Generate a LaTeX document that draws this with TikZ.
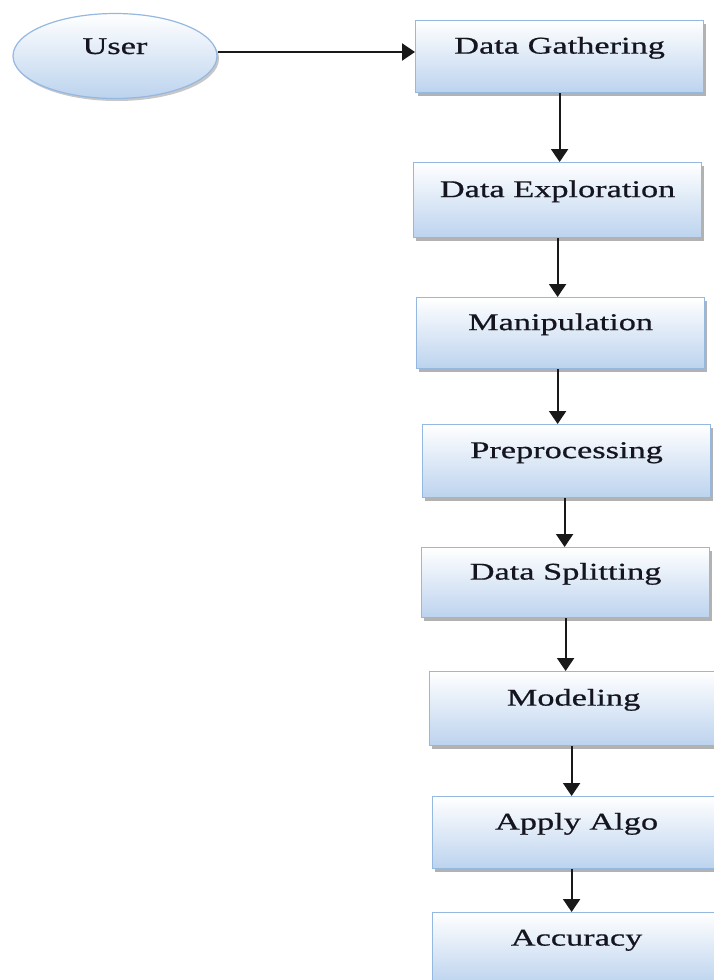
\documentclass[tikz,border=0pt]{standalone}
\usepackage{fontspec}
\setmainfont[FakeStretch=1.43,FakeBold=0.7]{Liberation Serif}
\usetikzlibrary{arrows.meta,shadows,shapes.geometric,calc}
\definecolor{boxbot}{HTML}{BCD3EE}
\definecolor{boxline}{HTML}{95B8E0}
\definecolor{txt}{HTML}{151520}
\begin{document}
\begin{tikzpicture}[x=1pt,y=1pt,
  font=\fontsize{24}{28}\selectfont,
  stepbox/.style={rectangle, draw=boxline, line width=1.2pt,
    top color=white, bottom color=boxbot, text=txt,
    minimum width=288pt, inner sep=0pt, anchor=north west,
    text height=16pt, text depth=22pt,
    drop shadow={shadow xshift=2.5pt, shadow yshift=-3pt, opacity=0.5, fill=black!60}},
  userell/.style={ellipse, draw=boxline, line width=1.2pt,
    top color=white, bottom color=boxbot, text=txt,
    minimum width=204pt, minimum height=85pt, inner sep=0pt,
    text height=16pt, text depth=20pt,
    drop shadow={shadow xshift=2pt, shadow yshift=-2.5pt, opacity=0.4, fill=black!55}},
  conn/.style={line width=2.2pt, draw=black!90, -{Triangle[length=13pt,width=17pt]}}
]
\useasboundingbox (0,0) rectangle (714,-980);
\fill[white] (0,0) rectangle (714,-980);

\node[userell] (user) at (115,-56) {User};
\node[stepbox, minimum height=72pt] (dg)  at (415,-20)  {Data Gathering};
\node[stepbox, minimum height=75pt] (de)  at (413,-162) {Data Exploration};
\node[stepbox, minimum height=71pt] (man) at (416,-297) {Manipulation};
\node[stepbox, minimum height=73pt] (pre) at (422,-424) {Preprocessing};
\node[stepbox, minimum height=70pt] (ds)  at (421,-547) {Data Splitting};
\node[stepbox, minimum height=74pt] (mod) at (429,-671) {Modeling};
\node[stepbox, minimum height=72pt] (app) at (432,-796) {Apply Algo};
\node[stepbox, minimum height=72pt] (acc) at (432,-912) {Accuracy};

\draw[conn] ([yshift=4pt]user.east) -- ([yshift=4pt]user.east -| dg.west);
\draw[conn] (dg.south) -- (dg.south |- de.north);
\draw[conn] (de.south) -- (de.south |- man.north);
\draw[conn] ([xshift=-3pt]man.south) -- ([xshift=-3pt]man.south |- pre.north);
\draw[conn] ([xshift=-2pt]pre.south) -- ([xshift=-2pt]pre.south |- ds.north);
\draw[conn] (ds.south) -- (ds.south |- mod.north);
\draw[conn] ([xshift=-2pt]mod.south) -- ([xshift=-2pt]mod.south |- app.north);
\draw[conn] ([xshift=-5pt]app.south) -- ([xshift=-5pt]app.south |- acc.north);
\end{tikzpicture}
\end{document}
